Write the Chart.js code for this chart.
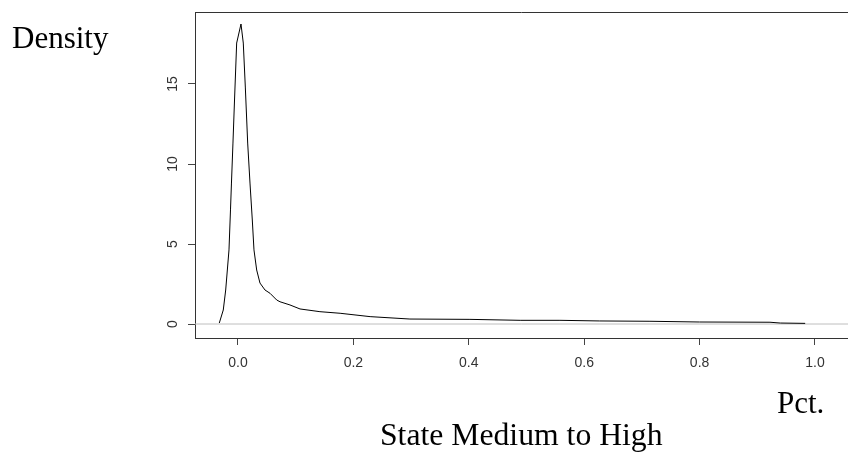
<!DOCTYPE html>
<html>
<head>
<meta charset="utf-8">
<script src="https://cdn.jsdelivr.net/npm/chart.js@4/dist/chart.umd.min.js"></script>
<style>
  html, body { margin: 0; padding: 0; background: #fff; }
  #wrap { position: relative; width: 848px; height: 454px; overflow: hidden; }
  #plot { position: absolute; left: 0; top: 0; }
  .lbl { position: absolute; font-family: "Liberation Serif", "Times New Roman", serif;
         line-height: 1; color: #000; white-space: nowrap; }
</style>
</head>
<body>
<div id="wrap">
  <canvas id="plot" width="848" height="454"></canvas>
  <div class="lbl" id="ylab" style="left:12px; top:22px; font-size:31px;">Density</div>
  <div class="lbl" id="xlab" style="left:777px; top:387px; font-size:31px;">Pct.</div>
  <div class="lbl" id="title" style="left:380px; top:419px; font-size:31.7px;">State Medium to High</div>
</div>
<script>
// Kernel density estimate of the share (Pct.) for "State Medium to High"
const densityX = [-0.0324, -0.0255, -0.0213, -0.0156, -0.0130, -0.0113, -0.0087, -0.0060,
  -0.0023, 0.0052, 0.0092, 0.0127, 0.0168, 0.0208, 0.0248, 0.0277, 0.0324, 0.0381,
  0.0468, 0.0555, 0.0671, 0.0728, 0.0901, 0.1075, 0.142, 0.177, 0.229, 0.298,
  0.402, 0.489, 0.558, 0.627, 0.714, 0.80, 0.922, 0.94, 0.983];
const densityY = [0.06, 0.875, 2.125, 4.63, 7.13, 8.81, 11.31, 14.0,
  17.56, 18.75, 17.56, 14.81, 11.31, 8.81, 6.5, 4.63, 3.375, 2.56,
  2.125, 1.92, 1.5, 1.39, 1.19, 0.94, 0.77, 0.67, 0.46, 0.31,
  0.29, 0.23, 0.23, 0.19, 0.17, 0.125, 0.11, 0.06, 0.04];

const xTicks = [0, 0.2, 0.4, 0.6, 0.8, 1.0];
const yTicks = [0, 5, 10, 15];

const xRange = [-0.0745, 1.0572];
const yRange = [-0.875, 19.5];

const curve = densityX.map((x, i) => ({ x: x, y: densityY[i] }));
const baseline = [{ x: xRange[0], y: 0 }, { x: xRange[1], y: 0 }];

const tickFont = { family: "'Liberation Sans', Arial, sans-serif", size: 14 };

// top edge of the plot frame
const frameTop = {
  id: 'frameTop',
  afterDraw(chart) {
    const { ctx, chartArea } = chart;
    ctx.save();
    ctx.strokeStyle = '#333';
    ctx.lineWidth = 1;
    ctx.beginPath();
    const y = Math.round(chartArea.top) + 0.5;
    ctx.moveTo(chartArea.left, y);
    ctx.lineTo(chartArea.right, y);
    ctx.stroke();
    ctx.restore();
  }
};

new Chart(document.getElementById('plot'), {
  type: 'line',
  data: {
    datasets: [
      { data: baseline, borderColor: '#bebebe', borderWidth: 1, pointRadius: 0, tension: 0, order: 2 },
      { data: curve, borderColor: '#000', borderWidth: 1, pointRadius: 0, tension: 0, order: 1 }
    ]
  },
  options: {
    responsive: false,
    animation: false,
    events: [],
    layout: { padding: { top: 12, left: 0, right: 0, bottom: 0 } },
    plugins: { legend: { display: false }, tooltip: { enabled: false } },
    scales: {
      x: {
        type: 'linear',
        min: xRange[0], max: xRange[1],
        afterBuildTicks(s) { s.ticks = xTicks.map(v => ({ value: v })); },
        afterFit(s) { s.height = 116; s.paddingLeft = 0; s.paddingRight = 0; },
        border: { display: true, color: '#333', width: 1 },
        grid: { display: true, drawOnChartArea: false, drawTicks: true, tickLength: 7, color: '#444' },
        ticks: {
          color: '#333', font: tickFont, padding: 10, maxRotation: 0, minRotation: 0,
          callback: v => Number(v).toFixed(1)
        }
      },
      y: {
        type: 'linear',
        min: yRange[0], max: yRange[1],
        afterBuildTicks(s) { s.ticks = yTicks.map(v => ({ value: v })); },
        afterFit(s) { s.width = 195; s.paddingTop = 0; s.paddingBottom = 0; },
        border: { display: true, color: '#333', width: 1 },
        grid: { display: true, drawOnChartArea: false, drawTicks: true, tickLength: 7, color: '#444' },
        ticks: {
          color: '#333', font: tickFont, padding: 7, minRotation: 90, maxRotation: 90,
          crossAlign: 'center',
          callback: v => String(v)
        }
      }
    }
  },
  plugins: [frameTop]
});
</script>
</body>
</html>
